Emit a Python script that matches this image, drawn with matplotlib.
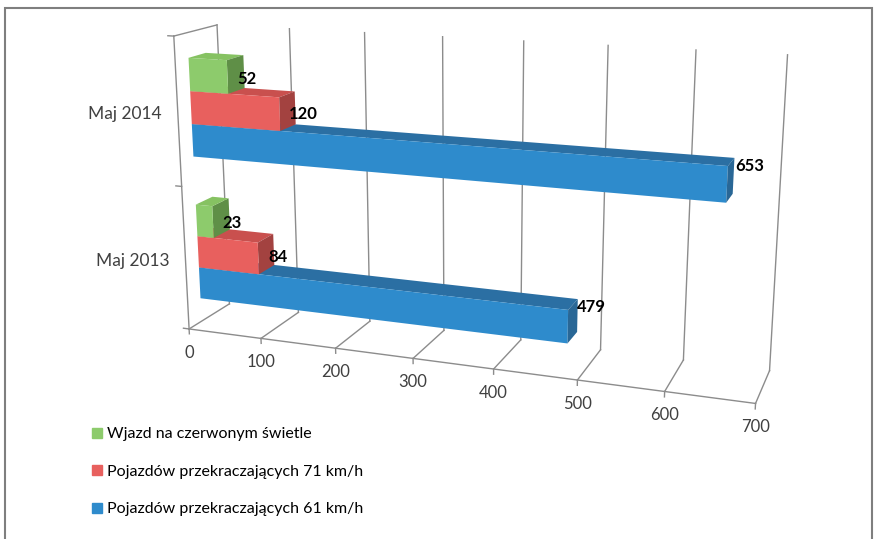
import numpy as np
import matplotlib
matplotlib.use('Agg')
import matplotlib.pyplot as plt
from matplotlib.lines import Line2D
from matplotlib.patches import Rectangle
from mpl_toolkits.mplot3d import proj3d
from mpl_toolkits.mplot3d.art3d import Poly3DCollection

plt.rcParams['font.family'] = ['Lato', 'DejaVu Sans']

categories = ['Maj 2013', 'Maj 2014']
speed_61 = [479, 653]
speed_71 = [84, 120]
red_light = [23, 52]
value_ticks = [0, 100, 200, 300, 400, 500, 600, 700]
legend_names = ['Wjazd na czerwonym świetle', 'Pojazdów przekraczających 71 km/h',
                'Pojazdów przekraczających 61 km/h']

W, H = 877, 539
fig = plt.figure(figsize=(W / 100, H / 100), dpi=100)
ax = fig.add_axes([0.1446, -0.0061, 0.7573, 1.2322], projection='3d',
                  computed_zorder=False)
ax.set_xlim(0, 700)
ax.set_ylim(0, 1)
ax.set_zlim(0, 2)
ax.set_axis_off()
ax.view_init(elev=14.77, azim=-70.2)
ax.set_box_aspect((1, 0.1464, 0.5223))
ax.set_proj_type('persp', focal_length=0.4013)

# walls and floor: gridlines on the back wall, depth lines on the floor
grid_color = '#8c8c8c'
for v in value_ticks:
    ax.plot([v, v], [1, 1], [0, 2], color=grid_color, lw=1.0, zorder=1)
    ax.plot([v, v], [0, 1], [0, 0], color=grid_color, lw=1.0, zorder=1)
    ax.plot([v, v], [0, 0], [0, -0.035], color=grid_color, lw=1.0, zorder=1)
ax.plot([0, 700], [0, 0], [0, 0], color=grid_color, lw=1.0, zorder=1)
ax.plot([0, 0], [0, 0], [0, 2], color=grid_color, lw=1.0, zorder=1)
ax.plot([0, 0], [0, 1], [2, 2], color=grid_color, lw=1.0, zorder=1)
for z in (0, 1, 2):
    ax.plot([0, -8], [0, 0], [z, z], color=grid_color, lw=1.0, zorder=1)

# (values, (front, top, end) face colours), drawn bottom to top in each category
series = [
    (speed_61, ('#2e8bcc', '#2b6fa3', '#296796')),
    (speed_71, ('#e8605e', '#c9504e', '#a34240')),
    (red_light, ('#8dcb6c', '#86c262', '#5f8f47')),
]
bar_h = 1 / 4.5
y_front, y_back = 0.3, 0.7
M = ax.get_proj()
for si, (vals, cols) in enumerate(series):
    for ci, v in enumerate(vals):
        z0 = ci + 0.75 * bar_h + si * bar_h
        z1 = z0 + bar_h
        front = [(0, y_front, z0), (v, y_front, z0), (v, y_front, z1), (0, y_front, z1)]
        top = [(0, y_front, z1), (v, y_front, z1), (v, y_back, z1), (0, y_back, z1)]
        end = [(v, y_front, z0), (v, y_back, z0), (v, y_back, z1), (v, y_front, z1)]
        pc = Poly3DCollection([front, top, end], facecolors=list(cols), edgecolors='none')
        pc.set_zorder(5 + si)
        ax.add_collection3d(pc)

        # value label: right of the front face, centred on the bar's outline
        corners = np.array([(x, y, z) for x in (0, v) for y in (y_front, y_back)
                            for z in (z0, z1)])
        xs, ys, _ = proj3d.proj_transform(corners[:, 0], corners[:, 1], corners[:, 2], M)
        fx, _, _ = proj3d.proj_transform(np.array([v]), np.array([y_front]),
                                         np.array([z0]), M)
        ax.annotate(str(v), xy=(fx[0], (ys.min() + ys.max()) / 2), xytext=(9, -6),
                    textcoords='offset pixels', ha='left', va='center',
                    fontsize=12, fontweight='bold', color='black', zorder=20)

for v in value_ticks:
    xs, ys, _ = proj3d.proj_transform(np.array([v]), np.array([0.0]), np.array([0.0]), M)
    ax.annotate(str(v), xy=(xs[0], ys[0]), xytext=(0, -24), textcoords='offset pixels',
                ha='center', va='center', fontsize=12, color='#404040')
for ci, cat in enumerate(categories):
    xs, ys, _ = proj3d.proj_transform(np.array([0.0]), np.array([0.0]),
                                      np.array([ci + 0.5]), M)
    ax.annotate(cat, xy=(xs[0], ys[0]), xytext=(-16, -2), textcoords='offset pixels',
                ha='right', va='center', fontsize=12.5, color='#404040')

handles = [Line2D([], [], ls='none', marker='s', markersize=7.3, color=c)
           for c in ('#8dcb6c', '#e8605e', '#2e8bcc')]
fig.legend(handles, legend_names, loc='upper left', bbox_to_anchor=(90.5 / W, 1 - 427 / H),
           frameon=False, fontsize=11.5, handlelength=0.85, handletextpad=0.2,
           borderpad=0, borderaxespad=0, labelspacing=1.47)

fig.add_artist(Rectangle((4.5 / W, -0.05), (872 - 4.5) / W, 1.05 - 7.5 / H,
                         transform=fig.transFigure, fill=False, edgecolor='#7f7f7f', lw=1.5))

fig.savefig('out.png', dpi=100)
